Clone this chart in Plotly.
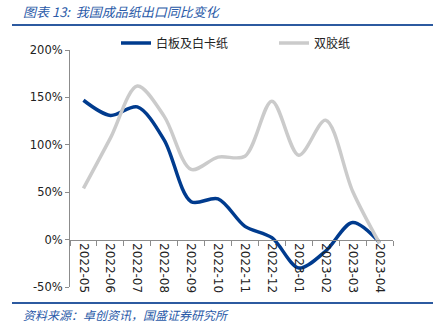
import plotly.graph_objects as go

months = ["2022-05", "2022-06", "2022-07", "2022-08", "2022-09", "2022-10",
          "2022-11", "2022-12", "2023-01", "2023-02", "2023-03", "2023-04"]
white_board = [147, 131, 140, 105, 40, 43, 14, 2, -30, -12, 18, -3]
offset_paper = [54, 107, 162, 130, 74, 87, 88, 146, 89, 126, 51, -4]

y_ticks = [-50, 0, 50, 100, 150, 200]
y_ticklabels = ["-50%", "0%", "50%", "100%", "150%", "200%"]

BLUE = "#003b8e"
GRAY = "#cbcbcb"
TXT_BLUE = "#2a5aa8"
CJK = "Noto Sans CJK SC"

W, H = 433, 331
L, R, T, B = 70, 40, 50, 44
PW, PH = W - L - R, H - T - B

fig = go.Figure()
fig.add_trace(go.Scatter(x=months, y=white_board, name="白板及白卡纸", mode="lines",
                         legend="legend",
                         line=dict(color=BLUE, width=3.5, shape="spline", smoothing=0.9)))
fig.add_trace(go.Scatter(x=months, y=offset_paper, name="双胶纸", mode="lines",
                         legend="legend2",
                         line=dict(color=GRAY, width=3.5, shape="spline", smoothing=0.9)))

ymin, ymax = -50, 200
zero_frac = (0 - ymin) / (ymax - ymin)

leg_common = dict(orientation="h", xref="container", yref="container",
                  yanchor="middle", xanchor="left",
                  font=dict(family=CJK, size=12, color="#222222"),
                  itemwidth=30, bgcolor="rgba(0,0,0,0)")

fig.update_layout(
    width=W, height=H,
    margin=dict(l=L, r=R, t=T, b=B, autoexpand=False),
    paper_bgcolor="white", plot_bgcolor="white",
    font=dict(family="DejaVu Sans", size=12, color="#222222"),
    showlegend=True,
    legend=dict(x=116 / W, y=1 - 43 / H, **leg_common),
    legend2=dict(x=274 / W, y=1 - 43 / H, **leg_common),
    xaxis=dict(type="category", range=[-0.5, len(months) - 0.5],
               anchor="free", position=zero_frac,
               showline=True, linecolor="#8c8c8c", linewidth=1,
               ticks="outside", tickson="boundaries", ticklen=5, tickcolor="#8c8c8c",
               tickangle=90, tickfont=dict(size=12, color="#222222"),
               showgrid=False, zeroline=False),
    yaxis=dict(range=[ymin, ymax], tickvals=y_ticks, ticktext=y_ticklabels,
               showline=True, linecolor="#8c8c8c", linewidth=1,
               ticks="outside", ticklen=4, tickcolor="#8c8c8c",
               tickfont=dict(size=11.5, color="#222222"),
               showgrid=False, zeroline=False),
)

# title and source
fig.add_annotation(xref="paper", yref="paper", x=(21 - L) / PW, y=1 + (T - 12) / PH,
                   xanchor="left", yanchor="middle",
                   text="<i>图表 13:  我国成品纸出口同比变化</i>", showarrow=False,
                   font=dict(family=CJK, size=13, color=TXT_BLUE))
fig.add_annotation(xref="paper", yref="paper", x=(21 - L) / PW, y=-(314 - T - PH) / PH,
                   xanchor="left", yanchor="middle",
                   text="<i>资料来源：卓创资讯，国盛证券研究所</i>", showarrow=False,
                   font=dict(family=CJK, size=12, color=TXT_BLUE))
fig.add_shape(type="line", xref="paper", yref="paper", x0=(12 - L) / PW, x1=(W - L) / PW,
              y0=1 + (T - 25) / PH, y1=1 + (T - 25) / PH, line=dict(color="#2c5aa0", width=2))
fig.add_shape(type="line", xref="paper", yref="paper", x0=(12 - L) / PW, x1=(W - L) / PW,
              y0=-(303 - T - PH) / PH, y1=-(303 - T - PH) / PH, line=dict(color="#2c5aa0", width=2))

fig.write_html("out.html")
